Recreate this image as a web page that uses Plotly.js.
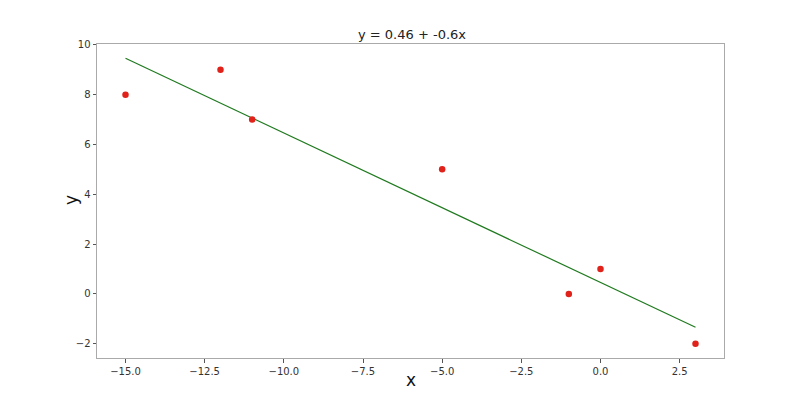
<!DOCTYPE html>
<html><head><meta charset="utf-8">
<script src="https://cdn.plot.ly/plotly-3.0.1.min.js"></script>
<style>body{margin:0;background:#fff}#chart{width:800px;height:400px}</style>
</head><body><div id="chart"></div>
<script>
const xs = [-15, -12, -11, -5, -1, 0, 3];
const ys = [8, 9, 7, 5, 0, 1, -2];
const intercept = 0.46;
const slope = -0.6;
const lineX = [-15, 3];
const lineY = lineX.map(v => intercept + slope * v);
const xTicks = [-15, -12.5, -10, -7.5, -5, -2.5, 0, 2.5];
const xTickText = ['\u221215.0', '\u221212.5', '\u221210.0', '\u22127.5', '\u22125.0', '\u22122.5', '0.0', '2.5'];
const yTicks = [-2, 0, 2, 4, 6, 8, 10];
const yTickText = ['\u22122', '0', '2', '4', '6', '8', '10'];

const font = 'DejaVu Sans, sans-serif';
const axisCommon = {
  showgrid: false, zeroline: false, showline: true, mirror: true,
  linecolor: '#aaaaaa', linewidth: 1, ticks: 'outside', ticklen: 3.5,
  tickcolor: '#555', tickfont: {family: font, size: 10, color: '#333'}
};
Plotly.newPlot('chart', [
  {x: lineX, y: lineY, mode: 'lines', line: {color: '#1f7a1f', width: 1.2}, hoverinfo: 'skip'},
  {x: xs, y: ys, mode: 'markers', marker: {color: '#e0221b', size: 6.5}}
], {
  width: 800, height: 400, showlegend: false,
  paper_bgcolor: '#fff', plot_bgcolor: '#fff',
  margin: {l: 97, r: 76, t: 44, b: 42},
  title: {text: 'y = 0.46 + -0.6x', font: {family: font, size: 13, color: '#222'}, x: 0.515, xanchor: 'center', y: 0.915, yanchor: 'middle'},
  xaxis: Object.assign({}, axisCommon, {range: [-15.9, 3.9], tickvals: xTicks, ticktext: xTickText}),
  yaxis: Object.assign({}, axisCommon, {range: [-2.573, 10.033], tickvals: yTicks, ticktext: yTickText}),
  annotations: [
    {text: 'x', xref: 'paper', yref: 'paper', x: (410.5 - 97) / 627, y: -(380 - 358) / 314, xanchor: 'center', yanchor: 'middle', showarrow: false, font: {family: font, size: 17, color: '#111'}},
    {text: 'y', xref: 'paper', yref: 'paper', x: -(97 - 71) / 627, y: (358 - 200) / 314, xanchor: 'center', yanchor: 'middle', textangle: -90, showarrow: false, font: {family: font, size: 17, color: '#111'}}
  ]
}, {staticPlot: true});
</script></body></html>
